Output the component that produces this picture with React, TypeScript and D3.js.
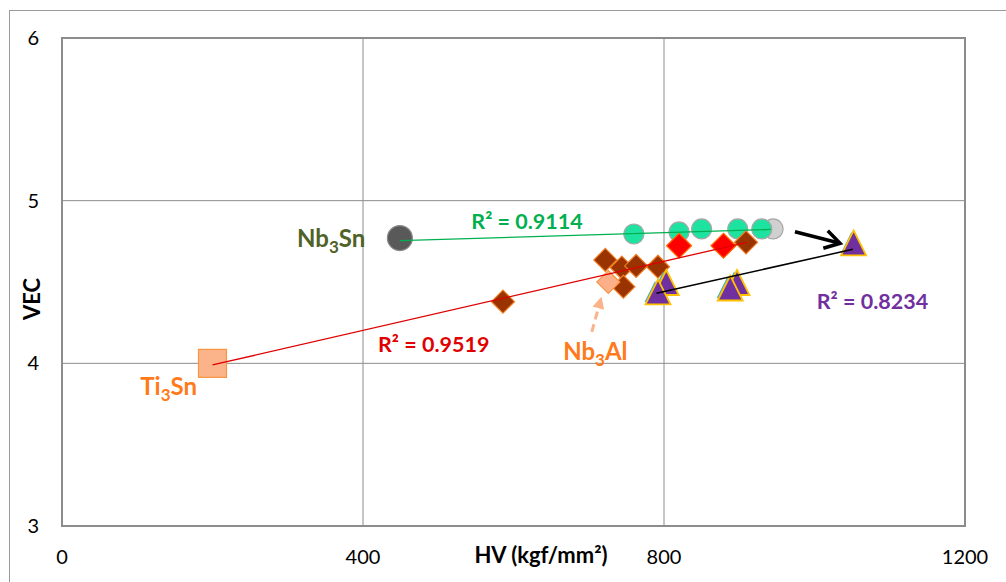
import * as d3 from "d3";
import { useEffect, useRef } from "react";

const W = 1006;
const H = 582;

const xTicks = [0, 400, 800, 1200];
const yTicks = [3, 4, 5, 6];

// [HV, VEC]
const nb3snPoint = [[449, 4.77]];
const tealPoints = [[760, 4.795], [820, 4.808], [850, 4.826], [898, 4.826], [930, 4.826]];
const greyPoints = [[945, 4.826]];
const brownPoints = [
  [586, 4.379], [722, 4.636], [744, 4.588], [763, 4.599], [792, 4.594], [746, 4.471], [909, 4.744],
];
const redPoints = [[820, 4.723], [879, 4.723]];
const nb3alPoint = [[726, 4.5]];
const ti3snPoint = [[200, 4.0]];
const bluePoints = [[799, 4.5], [788, 4.442], [893, 4.5], [884, 4.466], [1049, 4.743]];
const purplePoints = [[803, 4.497], [792, 4.439], [897, 4.497], [888, 4.463], [1052, 4.74]];

// trendline ends
const greenFit = [[449, 4.754], [942, 4.823]];
const redFit = [[200, 3.99], [910, 4.744]];
const blackFit = [[790, 4.431], [1051, 4.701]];

// annotation arrows
const blackArrow = [[974, 4.809], [1034, 4.738]];
const nb3alArrow = [[704, 4.193], [717, 4.41]];

const labels = [
  { parts: [["Nb", 0], ["3", 1], ["Sn", 0]], hv: 403, vec: 4.717, color: "#4f6228", anchor: "end", size: 24 },
  { parts: [["R² = 0.9114", 0]], hv: 544, vec: 4.826, color: "#00b050", anchor: "start", size: 21.5 },
  { parts: [["R² = 0.9519", 0]], hv: 420, vec: 4.07, color: "#e00000", anchor: "start", size: 21.5 },
  { parts: [["Nb", 0], ["3", 1], ["Al", 0]], hv: 666, vec: 4.021, color: "#ff7a1a", anchor: "start", size: 24 },
  { parts: [["Ti", 0], ["3", 1], ["Sn", 0]], hv: 104, vec: 3.806, color: "#ff7a1a", anchor: "start", size: 24 },
  { parts: [["R² = 0.8234", 0]], hv: 1003, vec: 4.334, color: "#7030a0", anchor: "start", size: 21.5 },
];

const diamond = (r) => `M0,${-r}L${r},0L0,${r}L${-r},0Z`;
const triangle = (s) => `M0,${-s / 2}L${s / 2},${s / 2}L${-s / 2},${s / 2}Z`;
const square = (s) => `M${-s / 2},${-s / 2}h${s}v${s}h${-s}Z`;

export default function App() {
  const svgRef = useRef(null);

  useEffect(() => {
    const svg = d3.select(svgRef.current);
    svg.selectAll("*").remove();

    const x = d3.scaleLinear([0, 1200], [62, 965]);
    const y = d3.scaleLinear([3, 6], [526, 38]);
    const font = "Lato, 'Open Sans', sans-serif";

    const defs = svg.append("defs");
    defs.append("marker")
      .attr("id", "chev")
      .attr("markerUnits", "userSpaceOnUse")
      .attr("viewBox", "-20 -12 24 24")
      .attr("markerWidth", 24).attr("markerHeight", 24)
      .attr("refX", 0).attr("refY", 0)
      .attr("orient", "auto")
      .append("path")
      .attr("d", "M-15,-9L0,0L-15,9")
      .attr("fill", "none").attr("stroke", "#000").attr("stroke-width", 3.5);
    defs.append("marker")
      .attr("id", "peachHead")
      .attr("markerUnits", "userSpaceOnUse")
      .attr("viewBox", "-14 -8 16 16")
      .attr("markerWidth", 16).attr("markerHeight", 16)
      .attr("refX", 0).attr("refY", 0)
      .attr("orient", "auto")
      .append("path")
      .attr("d", "M-12,-6L0,0L-12,6Z")
      .attr("fill", "#fbb48a");

    // outer chart border
    svg.append("rect")
      .attr("x", 9.5).attr("y", 10.5).attr("width", 1010).attr("height", 600)
      .attr("fill", "#fff").attr("stroke", "#9a9a9a").attr("stroke-width", 1);

    // grid
    svg.append("g").selectAll("line").data(xTicks.slice(1, -1)).join("line")
      .attr("x1", d => x(d)).attr("x2", d => x(d)).attr("y1", y(6)).attr("y2", y(3))
      .attr("stroke", "#8c8c8c").attr("stroke-width", 1);
    svg.append("g").selectAll("line").data(yTicks.slice(1, -1)).join("line")
      .attr("x1", x(0)).attr("x2", x(1200)).attr("y1", d => y(d)).attr("y2", d => y(d))
      .attr("stroke", "#8c8c8c").attr("stroke-width", 1);

    // plot frame
    svg.append("rect")
      .attr("x", x(0)).attr("y", y(6)).attr("width", x(1200) - x(0)).attr("height", y(3) - y(6))
      .attr("fill", "none").attr("stroke", "#8c8c8c").attr("stroke-width", 2);

    // tick labels
    svg.append("g").selectAll("text").data(yTicks).join("text")
      .attr("x", 39).attr("y", d => y(d) + 7)
      .attr("text-anchor", "end").attr("font-family", font).attr("font-size", 20).attr("fill", "#000")
      .text(d => d);
    svg.append("g").selectAll("text").data(xTicks).join("text")
      .attr("x", d => x(d)).attr("y", 564)
      .attr("text-anchor", "middle").attr("font-family", font).attr("font-size", 20).attr("fill", "#000")
      .text(d => d);

    svg.append("text")
      .attr("x", 541).attr("y", 563).attr("text-anchor", "middle")
      .attr("font-family", font).attr("font-weight", "bold").attr("font-size", 22)
      .text("HV (kgf/mm²)");
    svg.append("text")
      .attr("transform", "translate(40,299) rotate(-90)").attr("text-anchor", "middle")
      .attr("font-family", font).attr("font-weight", "bold").attr("font-size", 22)
      .text("VEC");

    const marks = (pts, path, fill, stroke, sw) =>
      svg.append("g").selectAll("path").data(pts).join("path")
        .attr("transform", d => `translate(${x(d[0])},${y(d[1])})`)
        .attr("d", path).attr("fill", fill).attr("stroke", stroke).attr("stroke-width", sw);

    const circles = (pts, r, fill, stroke) =>
      svg.append("g").selectAll("circle").data(pts).join("circle")
        .attr("cx", d => x(d[0])).attr("cy", d => y(d[1])).attr("r", r)
        .attr("fill", fill).attr("stroke", stroke).attr("stroke-width", 1.2);

    circles(greyPoints, 10, "#d0d0d0", "#a6a6a6");
    circles(tealPoints, 10, "#1ee3a0", "#a6a6a6");
    circles(nb3snPoint, 12.5, "#595959", "#8c8c8c");

    marks(ti3snPoint, square(28), "#fbb48a", "#f79646", 1.2);
    marks(brownPoints, diamond(11.5), "#993300", "#f07d22", 1.2);
    marks(nb3alPoint, diamond(11.5), "#fbb08a", "#f79646", 1.2);
    marks(redPoints, diamond(12.5), "#ff0000", "#ff6a00", 1.2);
    marks(bluePoints, triangle(21), "#4bacc6", "none", 0);
    marks(purplePoints, triangle(25), "#7030a0", "#ffc000", 1.8);

    const line = d3.line().x(d => x(d[0])).y(d => y(d[1]));
    svg.append("path").attr("d", line(greenFit)).attr("stroke", "#00b050").attr("stroke-width", 1.3).attr("fill", "none");
    svg.append("path").attr("d", line(redFit)).attr("stroke", "#e00000").attr("stroke-width", 1.3).attr("fill", "none");
    svg.append("path").attr("d", line(blackFit)).attr("stroke", "#000").attr("stroke-width", 1.5).attr("fill", "none");

    svg.append("path").attr("d", line(blackArrow))
      .attr("stroke", "#000").attr("stroke-width", 3.5).attr("fill", "none")
      .attr("marker-end", "url(#chev)");
    svg.append("path").attr("d", line(nb3alArrow))
      .attr("stroke", "#fbb48a").attr("stroke-width", 3).attr("stroke-dasharray", "8,5").attr("fill", "none")
      .attr("marker-end", "url(#peachHead)");

    const lab = svg.append("g").selectAll("text").data(labels).join("text")
      .attr("x", d => x(d.hv)).attr("y", d => y(d.vec))
      .attr("text-anchor", d => d.anchor)
      .attr("font-family", font).attr("font-weight", "bold").attr("font-size", d => d.size)
      .attr("fill", d => d.color);
    lab.selectAll("tspan").data(d => d.parts.map(p => [p[0], p[1], d.size])).join("tspan")
      .attr("font-size", p => (p[1] ? Math.round(p[2] * 0.7) : p[2]))
      .attr("dy", (p, i) => {
        if (p[1]) return 6;
        return i > 0 ? -6 : 0;
      })
      .text(p => p[0]);
  }, []);

  return (
    <svg
      ref={svgRef}
      width={W}
      height={H}
      viewBox={`0 0 ${W} ${H}`}
      style={{ position: "absolute", left: 0, top: 0, background: "#fff" }}
      xmlns="http://www.w3.org/2000/svg"
    />
  );
}
